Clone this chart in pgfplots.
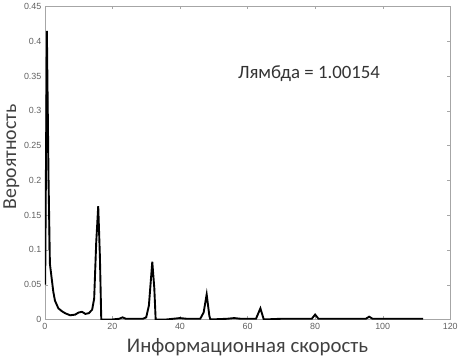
\documentclass[border=0pt]{standalone}
\usepackage{pgfplots}
\pgfplotsset{compat=1.18}
\usepackage{fontspec}
\setmainfont{Carlito}
\newfontfamily\ticksf{Liberation Sans}
\begin{document}
\begin{tikzpicture}
\begin{axis}[
  scale only axis,
  width=408bp, height=315bp,
  xmin=0, xmax=120, ymin=0, ymax=0.45,
  xtick={0,20,...,120},
  ytick={0,0.05,0.1,0.15,0.2,0.25,0.3,0.35,0.4,0.45},
  yticklabels={0,0.05,0.1,0.15,0.2,0.25,0.3,0.35,0.4,0.45},
  tick align=inside,
  axis line style={gray!70},
  tick style={gray!70},
  major tick length=3bp,
  /pgf/number format/assume math mode=true,
  tick label style={font=\ticksf\fontsize{9}{9}\selectfont, text=gray!75!black},
  xlabel={Информационная скорость},
  ylabel={Вероятность},
  label style={font=\fontsize{20}{20}\selectfont, text=black!75},
  xlabel style={font=\fontsize{21}{21}\selectfont, yshift=-2bp},
  ylabel style={at={(ticklabel cs:0.52)}, yshift=-2bp},
]
\addplot[gray!60, line width=1bp] coordinates {
(0.2,0.1) (0.45,0.35) (0.9,0.31) (1.1,0.1)
};
\addplot[black, line width=1.9bp] coordinates {
(0.1,0.05) (0.6,0.415) (1.1,0.2) (1.5,0.08) (2,0.06) (2.5,0.04) (3,0.027) (4,0.016) (5,0.012) (6,0.009) (7.5,0.006) (9,0.007) (10,0.01) (11,0.011) (12,0.008) (13,0.009) (14,0.014) (14.6,0.03) (15.2,0.11) (15.8,0.163) (16.3,0.09) (16.7,0.0)
(20,0.0) (22,0.001) (23,0.003) (24,0.001) (29,0.001) (30,0.003) (30.8,0.02) (31.8,0.083) (32.4,0.045) (32.8,0.0)
(36,0.0) (38,0.001) (40,0.002) (42,0.001) (46,0.001) (47,0.01) (47.9,0.036) (48.7,0.005) (49,0.0)
(54,0.001) (56,0.002) (58,0.001) (62.5,0.001) (63.8,0.016) (64.8,0.0)
(70,0.001) (75,0.001) (79,0.001) (80,0.007) (81,0.001) (88,0.001) (95,0.001) (96,0.004) (97,0.001) (104,0.001) (112,0.001)
};
\node[font=\fontsize{19}{19}\selectfont, text=black!80] at (axis cs:78.2,0.353) {Лямбда = 1.00154};
\end{axis}
\end{tikzpicture}
\end{document}
